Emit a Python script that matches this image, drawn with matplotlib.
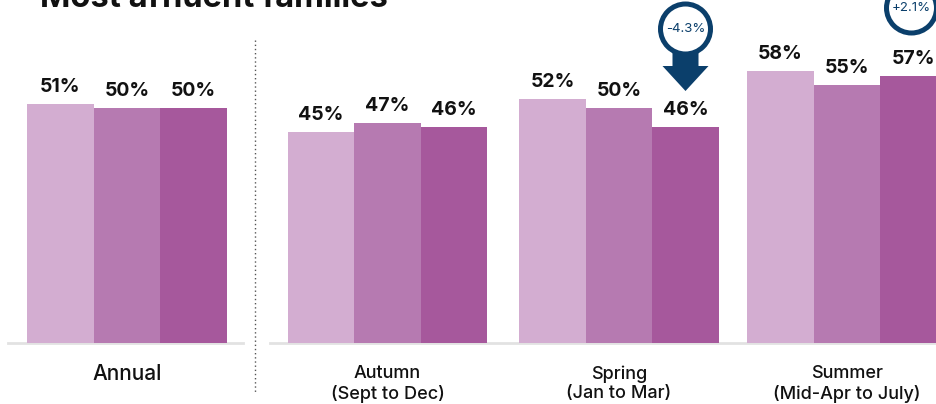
import numpy as np
import matplotlib.pyplot as plt
from matplotlib.patches import Ellipse, Polygon

# survey shares, most affluent families
groups = ["Annual", "Autumn\n(Sept to Dec)", "Spring\n(Jan to Mar)", "Summer\n(Mid-Apr to July)"]
year_a = [51, 45, 52, 58]
year_b = [50, 47, 50, 55]
year_c = [50, 46, 46, 57]
changes = {2: "-4.3%", 3: "+2.1%"}

colors = ["#D3ADD1", "#B67AB1", "#A6589C"]
navy = "#0B3F6B"

W, H = 937, 404
BASE = 343          # pixel row of the zero line
PX = 4.69           # pixels per percentage point

fig = plt.figure(figsize=(W / 100, H / 100), dpi=100)
ax = fig.add_axes([0, 0, 1, 1])
ax.set_xlim(0, W)
ax.set_ylim(-(H - BASE) / PX, BASE / PX)
ax.axis("off")

font = ["Inter", "DejaVu Sans"]

centers = np.array([127, 387.5, 619, 847])
bw = 66.5
series = [year_a, year_b, year_c]

for k, vals in enumerate(series):
    xs = centers + (k - 1) * bw
    ax.bar(xs, vals, width=bw, color=colors[k], edgecolor="none", zorder=2)
    for x, v in zip(xs, vals):
        ax.text(x, v + 8 / PX, f"{v}%", ha="center", va="bottom",
                fontsize=14, fontweight="bold", family=font, color="#111111")

# baseline segments and divider
ax.plot([8, 243], [0, 0], color="#E2E2E2", lw=2, zorder=1)
ax.plot([270, W], [0, 0], color="#E2E2E2", lw=2, zorder=1)
ax.plot([255, 255], [(BASE - 40) / PX, (BASE - 392) / PX], color="#555555",
        lw=1, ls=(0, (1, 2)), zorder=1)

for i, g in enumerate(groups):
    if "\n" in g:
        top, bot = g.split("\n")
        ax.text(centers[i], (BASE - 374) / PX, top, ha="center", va="center",
                fontsize=13, fontweight="medium", family=font, color="#111111")
        ax.text(centers[i], (BASE - 394) / PX, bot, ha="center", va="center",
                fontsize=13, fontweight="medium", family=font, color="#111111")
    else:
        ax.text(centers[i], (BASE - 374) / PX, g, ha="center", va="center",
                fontsize=15, fontweight="medium", family=font, color="#111111")


def badge(cx, cy_px, text):
    r = 25
    cy = (BASE - cy_px) / PX
    ax.add_patch(Ellipse((cx, cy), 2 * r, 2 * r / PX, facecolor="white",
                         edgecolor=navy, lw=3.6, zorder=5))
    ax.text(cx, cy, text, ha="center", va="center", fontsize=9.5,
            family=font, color=navy, zorder=6)


# drop arrow for spring
cx = centers[2] + bw
y = lambda p: (BASE - p) / PX
arrow = [(cx - 13, y(50)), (cx + 13, y(50)), (cx + 13, y(66)), (cx + 23, y(66)),
         (cx, y(91)), (cx - 23, y(66)), (cx - 13, y(66))]
ax.add_patch(Polygon(arrow, closed=True, facecolor=navy, edgecolor="none", zorder=4))
badge(cx, 29, changes[2])
badge(centers[3] + bw - 2, 8, changes[3])

fig.text(40 / W, 1 - 7 / H, "Most affluent families", ha="left", va="baseline",
         fontsize=23.5, fontweight="bold", family=font, color="#111111")

fig.savefig("out.png", dpi=100)
